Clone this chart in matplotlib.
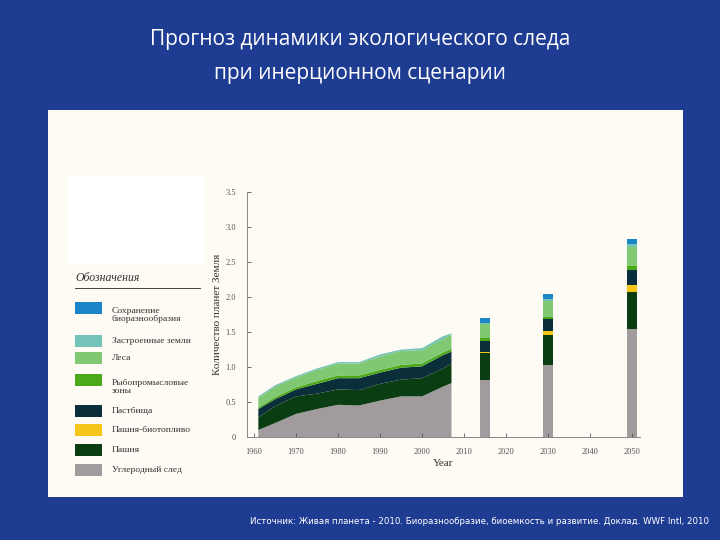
import matplotlib
matplotlib.use("Agg")
import matplotlib.pyplot as plt
from matplotlib.patches import Rectangle
import numpy as np

years = [1961, 1965, 1970, 1975, 1980, 1985, 1990, 1995, 2000, 2005, 2007]
carbon   = [0.10, 0.20, 0.33, 0.40, 0.46, 0.45, 0.52, 0.58, 0.58, 0.72, 0.77]
cropland = [0.18, 0.24, 0.25, 0.22, 0.22, 0.22, 0.24, 0.24, 0.26, 0.26, 0.28]
grazing  = [0.12, 0.10, 0.10, 0.14, 0.16, 0.17, 0.16, 0.17, 0.17, 0.19, 0.17]
fish     = [0.02, 0.03, 0.03, 0.04, 0.04, 0.04, 0.04, 0.04, 0.04, 0.04, 0.04]
forest   = [0.14, 0.15, 0.14, 0.16, 0.17, 0.17, 0.19, 0.20, 0.19, 0.19, 0.20]
built    = [0.02, 0.02, 0.02, 0.02, 0.02, 0.02, 0.03, 0.02, 0.03, 0.04, 0.02]

bar_years = [2015, 2030, 2050]
b_carbon  = [0.82, 1.03, 1.55]
b_crop    = [0.38, 0.43, 0.52]
b_biofuel = [0.02, 0.06, 0.10]
b_grazing = [0.15, 0.17, 0.22]
b_fish    = [0.04, 0.03, 0.05]
b_forest  = [0.20, 0.22, 0.27]
b_built   = [0.02, 0.03, 0.04]
b_biodiv  = [0.07, 0.07, 0.08]

xticks = [1960, 1970, 1980, 1990, 2000, 2010, 2020, 2030, 2040, 2050]
xticklabels = ["1960", "1970", "1980", "1990", "2000", "2010", "2020", "2030", "2040", "2050"]
yticks = [0, 0.5, 1.0, 1.5, 2.0, 2.5, 3.0, 3.5]
yticklabels = ["0", "0.5", "1.0", "1.5", "2.0", "2.5", "3.0", "3.5"]

legend_labels = ["Сохранение\nбиоразнообразия", "Застроенные земли", "Леса",
                 "Рыбопромысловые\nзоны", "Пастбища", "Пашня-биотопливо", "Пашня",
                 "Углеродный след"]
C = {"biodiv": "#1A86C8", "built": "#74C3B8", "forest": "#80C972", "fish": "#4CA91A",
     "grazing": "#0B2F3A", "biofuel": "#F5C518", "crop": "#0B3D12", "carbon": "#A19B9D"}
legend_colors = [C["biodiv"], C["built"], C["forest"], C["fish"], C["grazing"],
                 C["biofuel"], C["crop"], C["carbon"]]

fig = plt.figure(figsize=(7.2, 5.4), dpi=100)
fig.patch.set_facecolor("#1F3C93")
fig.add_artist(Rectangle((48/720, 1-497/540), (683-48)/720, (497-110)/540,
                         transform=fig.transFigure, facecolor="#FDFBF3", edgecolor="none", zorder=0))
fig.add_artist(Rectangle((68/720, 1-265/540), (205-68)/720, (265-175)/540,
                         transform=fig.transFigure, facecolor="white", edgecolor="none", zorder=1))

fig.text(0.5, 1-40/540, "Прогноз динамики экологического следа", color="white",
         ha="center", va="center", fontsize=15, family="Open Sans")
fig.text(0.5, 1-73/540, "при инерционном сценарии", color="white",
         ha="center", va="center", fontsize=15, family="Open Sans")
fig.text(0.985, 1-522/540, "Источник: Живая планета - 2010. Биоразнообразие, биоемкость и развитие. Доклад. WWF Intl, 2010",
         color="white", ha="right", va="center", fontsize=6.2)

ax = fig.add_axes([247/720, 1-437/540, (640-247)/720, (437-192)/540])
ax.set_facecolor("none")
ax.stackplot(years, carbon, cropland, grazing, fish, forest, built,
             colors=[C["carbon"], C["crop"], C["grazing"], C["fish"], C["forest"], C["built"]],
             linewidth=0)
layers = [(b_carbon, "carbon"), (b_crop, "crop"), (b_biofuel, "biofuel"), (b_grazing, "grazing"),
          (b_fish, "fish"), (b_forest, "forest"), (b_built, "built"), (b_biodiv, "biodiv")]
bottom = np.zeros(len(bar_years))
for vals, key in layers:
    ax.bar(bar_years, vals, bottom=bottom, width=2.4, color=C[key], linewidth=0)
    bottom += np.array(vals)

ax.set_xlim(1958.3, 2051.9)
ax.set_ylim(0, 3.5)
ax.set_xticks(xticks)
ax.set_xticklabels(xticklabels, family="Liberation Serif", fontsize=6)
ax.set_yticks(yticks)
ax.set_yticklabels(yticklabels, family="Liberation Serif", fontsize=6)
ax.tick_params(colors="#555555", length=3, width=0.6, direction="in", pad=8)
for s in ["top", "right"]:
    ax.spines[s].set_visible(False)
for s in ["left", "bottom"]:
    ax.spines[s].set_color("#888888")
    ax.spines[s].set_linewidth(0.7)
ax.set_xlabel("Year", family="Liberation Serif", fontsize=8, color="#333333", labelpad=2)
ax.set_ylabel("Количество планет Земля", family="Liberation Serif", fontsize=8,
              color="#333333", labelpad=2)

# legend
fig.text(75/720, 1-278/540, "Обозначения", family="Liberation Serif", style="italic",
         fontsize=8.5, color="#333333", va="center")
fig.add_artist(plt.Line2D([75/720, 200/720], [1-288/540, 1-288/540], color="#444444", lw=0.7))
ys = [308, 341, 358, 380, 411, 430, 450, 470]
for y, lab, col in zip(ys, legend_labels, legend_colors):
    fig.add_artist(Rectangle((75/720, 1-(y+6)/540), 27/720, 12/540, transform=fig.transFigure,
                             facecolor=col, edgecolor="none"))
    fig.text(112/720, 1-(y if "\n" not in lab else y+7)/540, lab, family="Liberation Serif",
             fontsize=6.8, color="#333333", va="center", linespacing=1.1)

fig.savefig("out.png", dpi=100, facecolor=fig.get_facecolor())
